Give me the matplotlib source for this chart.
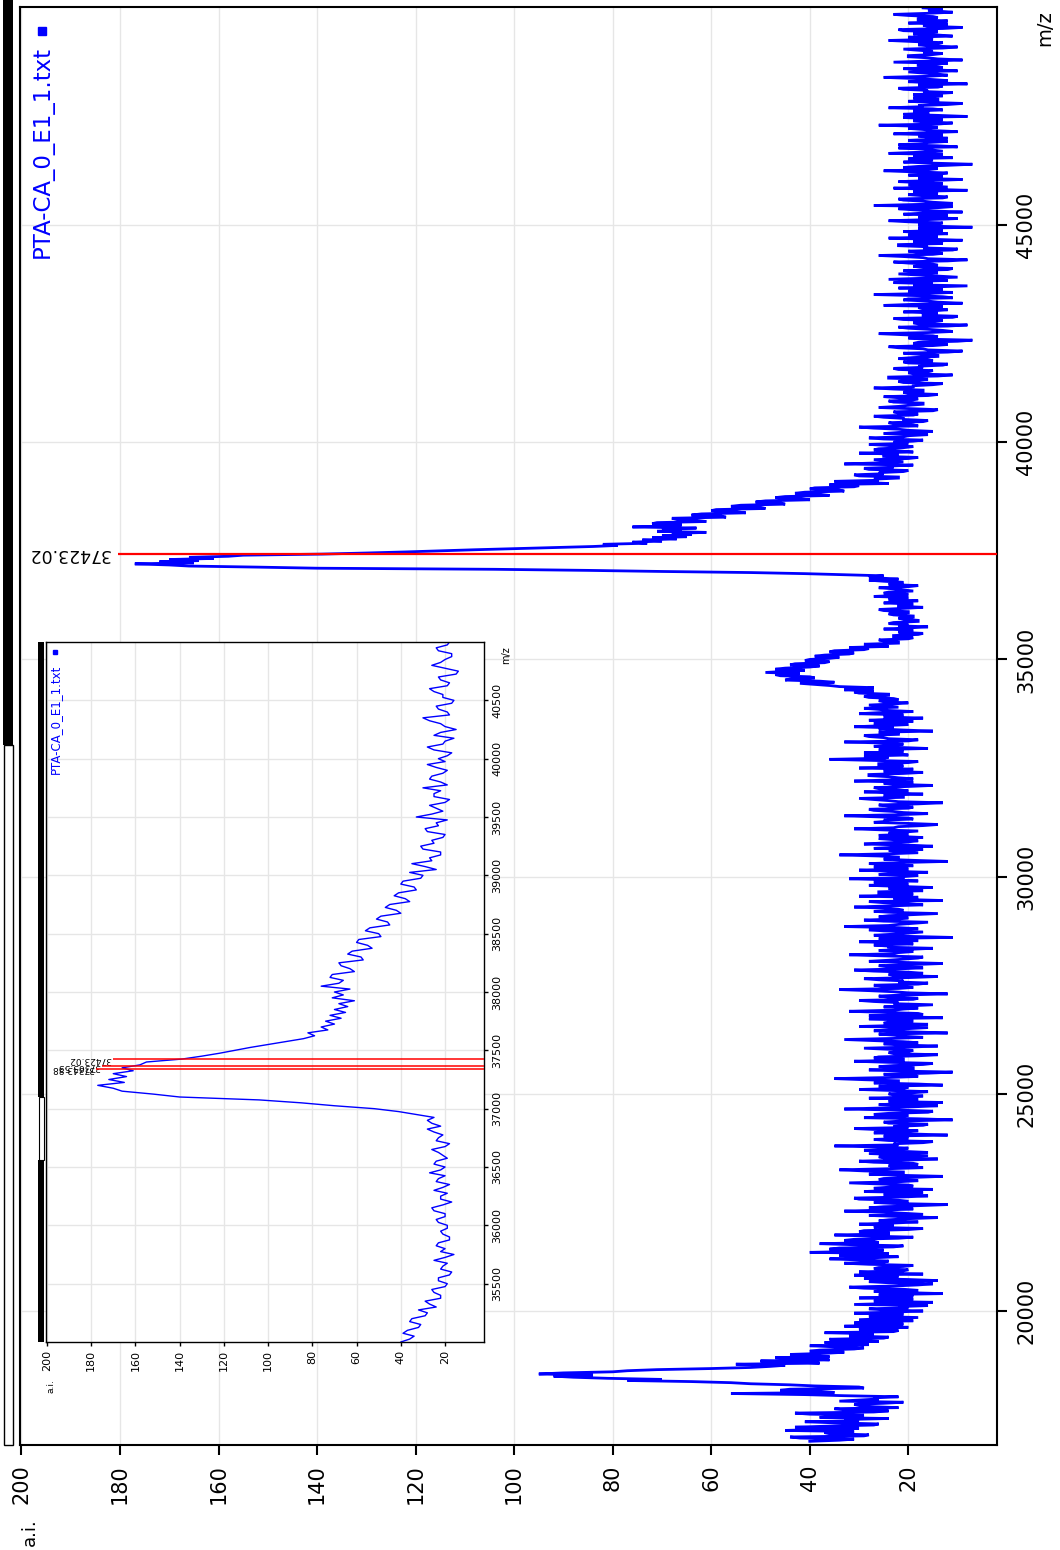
import numpy as np
import matplotlib
matplotlib.use('Agg')
import matplotlib.pyplot as plt
from matplotlib.patches import Rectangle

MZ_START = 17000
MZ_STEP = 25
INTENSITY = [
    # 17000
    40, 34, 31, 42, 44, 29, 28, 36, 37, 31, 45, 38, 30, 43, 36, 27, 26, 35, 41, 30,
    33, 24, 38, 32, 29, 40, 43, 27, 24, 33, 35, 22, 28, 30, 31, 25, 21, 34, 30, 26,
    # 18000
    27, 22, 33, 41, 56, 35, 38, 46, 44, 29, 30, 39, 44, 52, 56, 64, 77, 70, 81, 88,
    92, 84, 95, 90, 80, 77, 71, 60, 52, 48, 45, 55, 38, 43, 50, 36, 41, 47, 36, 42,
    # 19000
    44, 37, 33, 40, 38, 31, 29, 35, 40, 28, 31, 37, 26, 33, 36, 25, 24, 32, 31, 27,
    37, 23, 22, 30, 29, 20, 33, 26, 21, 31, 27, 19, 30, 24, 18, 28, 26, 21, 31, 23,
    # 20000
    17, 25, 28, 20, 22, 16, 31, 23, 15, 27, 25, 19, 30, 22, 19, 26, 13, 21, 27, 18,
    21, 29, 32, 23, 18, 15, 24, 28, 14, 20, 29, 24, 22, 31, 17, 26, 30, 21, 20, 27,
    # 21000
    26, 21, 19, 28, 33, 25, 24, 30, 36, 27, 22, 34, 30, 24, 40, 29, 25, 36, 34, 23,
    21, 31, 38, 26, 27, 33, 31, 22, 19, 28, 35, 24, 24, 30, 29, 20, 17, 27, 26, 23,
    # 22000
    30, 23, 18, 26, 24, 20, 14, 22, 28, 17, 21, 25, 33, 24, 19, 28, 25, 18, 12, 23,
    27, 20, 22, 30, 31, 21, 16, 25, 23, 17, 29, 24, 15, 27, 24, 19, 20, 26, 32, 22,
    # 23000
    18, 26, 25, 19, 13, 22, 28, 21, 21, 29, 34, 24, 17, 23, 24, 18, 19, 27, 30, 20,
    14, 25, 26, 16, 22, 28, 16, 21, 29, 23, 20, 26, 35, 22, 23, 17, 15, 24, 27, 20,
    # 24000
    21, 25, 12, 19, 27, 22, 18, 26, 31, 20, 23, 17, 16, 24, 25, 21, 11, 18, 29, 23,
    20, 27, 24, 16, 15, 22, 33, 25, 19, 14, 26, 21, 13, 24, 22, 18, 28, 20, 17, 23,
    # 25000
    24, 19, 16, 23, 30, 21, 20, 26, 13, 18, 27, 22, 22, 29, 35, 24, 18, 20, 25, 16,
    11, 22, 28, 19, 19, 26, 23, 17, 15, 24, 31, 21, 21, 27, 26, 18, 14, 23, 24, 20,
    # 26000
    19, 24, 29, 20, 14, 22, 25, 18, 21, 27, 33, 23, 17, 21, 23, 26, 12, 19, 27, 24,
    20, 16, 30, 22, 16, 25, 24, 19, 22, 28, 13, 21, 28, 17, 18, 25, 32, 23, 21, 18,
    # 27000
    25, 20, 15, 23, 22, 27, 30, 19, 18, 24, 26, 21, 12, 20, 23, 28, 34, 22, 19, 25,
    27, 18, 16, 22, 21, 26, 29, 20, 14, 23, 24, 17, 20, 27, 31, 22, 17, 24, 26, 19,
    # 28000
    13, 21, 28, 24, 21, 18, 17, 25, 32, 23, 22, 19, 26, 20, 15, 24, 24, 27, 19, 22,
    30, 18, 23, 26, 11, 20, 27, 23, 20, 17, 25, 28, 18, 22, 33, 24, 22, 19, 16, 25,
    # 29000
    29, 22, 20, 26, 24, 19, 14, 23, 27, 21, 22, 25, 31, 24, 17, 20, 25, 28, 13, 21,
    23, 18, 30, 22, 19, 26, 26, 17, 21, 24, 15, 22, 28, 20, 24, 27, 18, 23, 32, 21,
    # 30000
    21, 18, 26, 22, 16, 24, 30, 20, 23, 27, 19, 23, 28, 21, 12, 19, 25, 22, 22, 26,
    34, 24, 18, 21, 24, 17, 27, 23, 15, 20, 29, 25, 20, 18, 23, 26, 17, 22, 26, 20,
    # 31000
    24, 21, 18, 25, 31, 23, 22, 17, 14, 20, 27, 24, 25, 19, 20, 26, 33, 22, 16, 21,
    23, 27, 28, 20, 19, 24, 26, 18, 13, 22, 24, 27, 30, 21, 21, 25, 17, 23, 29, 20,
    # 32000
    22, 26, 27, 20, 15, 23, 25, 19, 31, 24, 19, 22, 24, 28, 28, 21, 17, 25, 23, 19,
    30, 23, 21, 26, 26, 20, 18, 27, 36, 25, 24, 29, 20, 23, 29, 21, 23, 26, 16, 22,
    # 33000
    27, 23, 21, 25, 33, 20, 18, 24, 25, 28, 29, 22, 22, 26, 15, 21, 26, 23, 31, 25,
    20, 27, 24, 19, 28, 23, 17, 25, 23, 21, 30, 26, 19, 24, 26, 29, 22, 25, 28, 23,
    # 34000
    20, 25, 26, 22, 23, 28, 29, 24, 24, 30, 31, 27, 33, 29, 27, 34, 36, 39, 42, 35,
    38, 45, 44, 39, 40, 46, 47, 42, 49, 45, 41, 47, 45, 40, 38, 44, 43, 37, 36, 41,
    # 35000
    40, 36, 34, 39, 37, 32, 31, 36, 35, 29, 28, 32, 24, 27, 29, 22, 22, 25, 26, 20,
    19, 23, 23, 18, 17, 22, 21, 19, 25, 20, 16, 22, 20, 24, 23, 18, 18, 21, 22, 19,
    # 36000
    19, 23, 24, 20, 20, 25, 26, 21, 17, 22, 22, 19, 25, 21, 18, 24, 23, 20, 27, 22,
    20, 25, 24, 19, 21, 23, 26, 20, 18, 24, 23, 21, 25, 28, 22, 26, 28, 25, 33, 41,
    # 37000
    52, 70, 85, 104, 140, 152, 166, 170, 177, 165, 172, 164, 170, 161, 166, 158, 155, 139, 130, 122,
    115, 108, 100, 92, 84, 79, 82, 73, 76, 70, 74, 67, 72, 65, 70, 64, 68, 61, 71, 66,
    # 38000
    70, 63, 76, 68, 66, 72, 71, 61, 63, 67, 68, 57, 58, 64, 62, 53, 55, 60, 59, 49,
    50, 56, 54, 45, 46, 51, 49, 40, 42, 47, 45, 36, 38, 43, 41, 33, 34, 40, 39, 31,
    # 39000
    30, 36, 24, 29, 35, 26, 27, 22, 22, 30, 31, 25, 26, 21, 20, 28, 29, 23, 24, 19,
    33, 26, 21, 24, 27, 20, 18, 25, 25, 22, 30, 19, 22, 27, 26, 21, 19, 24, 28, 20,
    # 40000
    23, 19, 17, 25, 28, 21, 20, 16, 25, 22, 15, 20, 22, 27, 30, 18, 19, 23, 24, 17,
    16, 21, 21, 25, 27, 19, 18, 22, 23, 15, 14, 20, 26, 22, 20, 17, 17, 23, 24, 19,
    # 41000
    18, 22, 25, 16, 14, 20, 21, 17, 17, 23, 27, 19, 19, 15, 13, 21, 22, 18, 16, 24,
    24, 14, 11, 19, 20, 16, 15, 22, 23, 17, 18, 13, 12, 20, 21, 15, 16, 22, 19, 14,
    # 42000
    14, 18, 21, 12, 9, 16, 17, 22, 24, 15, 12, 19, 18, 10, 7, 17, 20, 14, 15, 21,
    26, 16, 11, 13, 16, 20, 22, 12, 8, 18, 19, 15, 13, 21, 23, 11, 10, 17, 17, 14,
    # 43000
    21, 15, 12, 17, 18, 13, 25, 19, 9, 14, 16, 21, 20, 11, 13, 18, 27, 16, 11, 20,
    17, 13, 22, 15, 8, 19, 15, 23, 19, 12, 24, 17, 10, 14, 18, 22, 14, 16, 21, 12,
    # 44000
    11, 17, 19, 14, 15, 20, 23, 12, 8, 16, 17, 21, 26, 15, 13, 18, 20, 11, 10, 17,
    16, 22, 22, 13, 14, 19, 9, 16, 24, 14, 18, 20, 12, 16, 21, 13, 15, 18, 7, 15,
    # 45000
    18, 14, 13, 20, 24, 16, 10, 18, 16, 12, 21, 17, 9, 15, 19, 22, 14, 11, 27, 18,
    11, 15, 17, 21, 22, 13, 12, 17, 20, 14, 15, 19, 8, 16, 23, 12, 16, 20, 13, 17,
    # 46000
    22, 15, 9, 18, 16, 13, 20, 14, 12, 19, 25, 16, 14, 21, 18, 12, 7, 15, 21, 17,
    15, 20, 11, 16, 19, 13, 24, 18, 13, 15, 17, 22, 10, 14, 22, 17, 16, 12, 20, 15,
    # 47000
    12, 16, 18, 13, 23, 17, 10, 15, 17, 20, 14, 18, 26, 14, 11, 17, 19, 13, 15, 21,
    8, 14, 21, 16, 16, 19, 13, 15, 24, 17, 18, 12, 9, 16, 20, 14, 14, 19, 17, 13,
    # 48000
    19, 15, 11, 17, 16, 21, 22, 14, 13, 18, 8, 15, 20, 12, 15, 19, 25, 16, 12, 14,
    17, 20, 10, 15, 21, 13, 14, 18, 18, 12, 23, 16, 9, 14, 16, 20, 20, 15, 13, 17,
    # 49000
    15, 18, 21, 13, 10, 16, 18, 14, 13, 19, 24, 15, 16, 20, 11, 14, 19, 17, 14, 21,
    22, 13, 9, 16, 17, 12, 20, 15, 12, 18, 18, 14, 15, 20, 23, 16, 11, 14, 16, 13,
    # 50000
    17,
]

PEAK_MAIN = 37423.02
PEAKS_INSET = [37423.02, 37363.53, 37343.88]
PEAK_LABELS_INSET = ['37423.02', '37363.53', '37343.88']
LEGEND = 'PTA-CA_0_E1_1.txt'

AI_TICKS = [20, 40, 60, 80, 100, 120, 140, 160, 180, 200]
MAIN_MZ_TICKS = [20000, 25000, 30000, 35000, 40000, 45000]
INSET_MZ_TICKS = [35500, 36000, 36500, 37000, 37500, 38000, 38500, 39000, 39500, 40000, 40500]

BLUE = '#0000ff'
RED = '#ff0000'
GRID = '#e6e6e6'

mz = MZ_START + MZ_STEP * np.arange(len(INTENSITY))
inten = np.array(INTENSITY)

W, H = 1060, 1550
fig = plt.figure(figsize=(W / 100, H / 100), dpi=100)


def fx(px):
    return px / W


def fy(py):
    return 1 - py / H


def style(ax, fs, tlen, lw):
    ax.yaxis.tick_right()
    ax.tick_params(axis='both', direction='out', length=tlen, width=lw,
                   labelsize=fs, pad=tlen)
    ax.tick_params(axis='x', labelrotation=90)
    ax.tick_params(axis='y', labelrotation=90)
    for lab in ax.get_yticklabels():
        lab.set_va('center')
    for s in ax.spines.values():
        s.set_linewidth(lw)
        s.set_color('black')
    ax.grid(True, color=GRID, lw=1)
    ax.set_axisbelow(True)


# ---- main axes ----
ax = fig.add_axes([fx(20), fy(1445), fx(977), 1438 / H])
ax.plot(inten, mz, color=BLUE, lw=2.0, solid_joinstyle='miter')
ax.set_xlim(200.3, 2)
ax.set_ylim(16915, 50020)
ax.set_xticks(AI_TICKS)
ax.set_yticks(MAIN_MZ_TICKS)
style(ax, 15, 7, 1.5)
ax.hlines(PEAK_MAIN, 180.5, 2, color=RED, lw=1.6, zorder=3)
ax.text(182, PEAK_MAIN, '%.2f' % PEAK_MAIN, rotation=180, ha='right', va='center',
        fontsize=12.5)
ax.text(0.0225, 0.973, LEGEND, transform=ax.transAxes, rotation=90, ha='center',
        va='top', color=BLUE, fontsize=16.5)
ax.plot([0.0225], [0.9835], 's', color=BLUE, ms=6, transform=ax.transAxes, clip_on=False)

fig.text(fx(1045), fy(28), 'm/z', rotation=90, ha='center', va='center', fontsize=14)
fig.text(fx(30), fy(1532), 'a.i.', rotation=90, ha='center', va='center', fontsize=13)

# scroll bar left of main plot
fig.add_artist(Rectangle((fx(3), fy(745)), fx(10), 745 / H, color='black', lw=0))
fig.add_artist(Rectangle((fx(3.5), fy(1445)), fx(9), 700 / H, fill=False,
                         ec='black', lw=1))

# ---- inset axes ----
ax2 = fig.add_axes([fx(46), fy(1342), fx(438), 700 / H])
ax2.set_facecolor('white')
ax2.plot(inten, mz, color=BLUE, lw=1.0)
ax2.set_xlim(200.4, 2.4)
ax2.set_ylim(35000, 41000)
ax2.set_xticks(AI_TICKS)
ax2.set_yticks(INSET_MZ_TICKS)
style(ax2, 8, 3, 1.0)
for pk, lab, start in zip(PEAKS_INSET, PEAK_LABELS_INSET, [170, 175, 177.8]):
    ax2.hlines(pk, start, 2.4, color=RED, lw=1.1, zorder=3)
    ax2.text(start + 1, pk, lab, rotation=180, ha='right', va='center', fontsize=6.5)
ax2.text(0.021, 0.967, LEGEND, transform=ax2.transAxes, rotation=90, ha='center',
         va='top', color=BLUE, fontsize=8.5)
ax2.plot([0.021], [0.986], 's', color=BLUE, ms=3, transform=ax2.transAxes, clip_on=False)

fig.text(fx(506), fy(655), 'm/z', rotation=90, ha='center', va='center', fontsize=7)
fig.text(fx(51), fy(1386), 'a.i.', rotation=90, ha='center', va='center', fontsize=6.5)

# inset scroll bar
fig.add_artist(Rectangle((fx(38), fy(1097)), fx(6), 455 / H, color='black', lw=0))
fig.add_artist(Rectangle((fx(38.5), fy(1160)), fx(5), 63 / H, fill=False,
                         ec='black', lw=0.8))
fig.add_artist(Rectangle((fx(38), fy(1342)), fx(6), 182 / H, color='black', lw=0))

fig.savefig('out.png', dpi=100)
